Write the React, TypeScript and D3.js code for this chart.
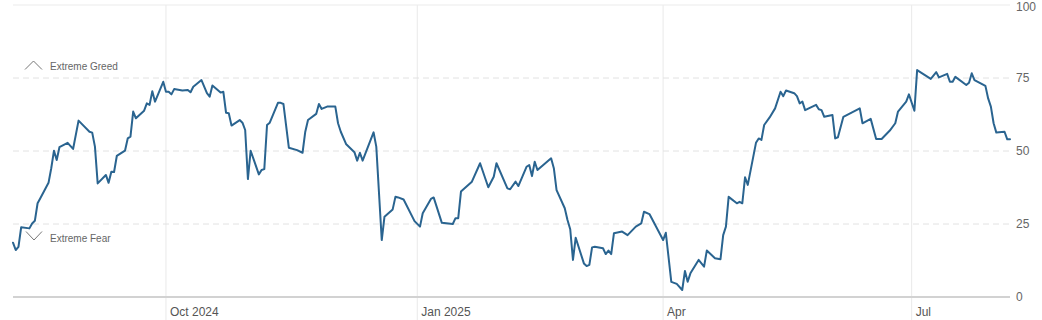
import React from "react";
import * as d3 from "d3";

const dates: string[] = [
  "2024-08-06","2024-08-07","2024-08-08","2024-08-09","2024-08-12","2024-08-13","2024-08-14","2024-08-15","2024-08-16",
  "2024-08-19","2024-08-20","2024-08-21","2024-08-22","2024-08-23","2024-08-26","2024-08-28","2024-08-30",
  "2024-09-03","2024-09-04","2024-09-05","2024-09-06","2024-09-09","2024-09-10","2024-09-11","2024-09-12","2024-09-13",
  "2024-09-16","2024-09-17","2024-09-18","2024-09-19","2024-09-20","2024-09-23","2024-09-24","2024-09-25","2024-09-26","2024-09-27","2024-09-30",
  "2024-10-01","2024-10-02","2024-10-03","2024-10-04","2024-10-06","2024-10-07","2024-10-09","2024-10-10","2024-10-11",
  "2024-10-14","2024-10-16","2024-10-17","2024-10-18","2024-10-21","2024-10-22","2024-10-23","2024-10-24","2024-10-25",
  "2024-10-28","2024-10-29","2024-10-30","2024-10-31",
  "2024-11-01","2024-11-04","2024-11-05","2024-11-06","2024-11-07","2024-11-08","2024-11-11","2024-11-12","2024-11-13","2024-11-15",
  "2024-11-18","2024-11-20","2024-11-21","2024-11-22","2024-11-25","2024-11-26","2024-11-27","2024-11-29",
  "2024-12-02","2024-12-03","2024-12-04","2024-12-06","2024-12-09","2024-12-10","2024-12-11","2024-12-12","2024-12-16","2024-12-17",
  "2024-12-19","2024-12-20","2024-12-23","2024-12-24","2024-12-25","2024-12-27","2024-12-31",
  "2025-01-02","2025-01-03","2025-01-06","2025-01-07","2025-01-10","2025-01-14","2025-01-15","2025-01-16","2025-01-17",
  "2025-01-21","2025-01-24","2025-01-27","2025-01-29","2025-01-30",
  "2025-02-03","2025-02-04","2025-02-06","2025-02-07","2025-02-10","2025-02-11","2025-02-12","2025-02-13","2025-02-14",
  "2025-02-19","2025-02-20","2025-02-21","2025-02-24","2025-02-25","2025-02-26","2025-02-27","2025-02-28",
  "2025-03-03","2025-03-04","2025-03-05","2025-03-06","2025-03-07","2025-03-10","2025-03-11","2025-03-12","2025-03-13","2025-03-14",
  "2025-03-17","2025-03-18","2025-03-19","2025-03-22","2025-03-24","2025-03-25","2025-03-27",
  "2025-04-01","2025-04-02","2025-04-04","2025-04-06","2025-04-08","2025-04-09","2025-04-10","2025-04-11","2025-04-14","2025-04-16","2025-04-17",
  "2025-04-20","2025-04-22","2025-04-23","2025-04-24","2025-04-25","2025-04-28","2025-04-29","2025-04-30",
  "2025-05-01","2025-05-02","2025-05-05","2025-05-06","2025-05-07","2025-05-08","2025-05-10","2025-05-12","2025-05-14","2025-05-15","2025-05-16",
  "2025-05-19","2025-05-20","2025-05-21","2025-05-22","2025-05-23","2025-05-27","2025-05-28","2025-05-29","2025-05-30",
  "2025-06-02","2025-06-03","2025-06-04","2025-06-06","2025-06-12","2025-06-13","2025-06-16","2025-06-18","2025-06-20",
  "2025-06-23","2025-06-25","2025-06-26","2025-06-29","2025-06-30",
  "2025-07-02","2025-07-03","2025-07-08","2025-07-10","2025-07-11","2025-07-14","2025-07-15","2025-07-16","2025-07-17",
  "2025-07-21","2025-07-22","2025-07-23","2025-07-24","2025-07-28","2025-07-29","2025-07-30","2025-07-31",
  "2025-08-01","2025-08-04","2025-08-05","2025-08-06",
];

const values: number[] = [
  18.6,16.1,17.2,23.9,23.5,25.2,26.1,32.1,33.8,
  39.1,44.1,50.1,46.9,51.3,52.8,50.7,60.4,
  56.6,56.3,51.5,38.9,41.8,39.1,42.9,42.8,48.3,
  50.1,54.3,54.9,63.5,61.2,63.8,66.3,65.8,70.5,66.9,73.7,
  70.3,70.3,69.4,71.2,70.9,70.7,70.9,70.1,72.0,
  74.3,69.8,68.6,72.4,70.0,70.3,63.1,62.9,58.7,
  60.6,59.7,57.2,40.4,
  50.1,42.0,43.5,43.8,58.9,59.7,66.5,66.5,66.1,51.1,
  50.3,49.4,56.6,60.6,62.7,66.1,64.4,65.2,
  65.2,59.5,56.6,52.3,49.6,46.7,49.4,46.7,56.4,51.5,
  19.5,27.5,30.0,34.3,34.1,33.4,26.0,
  24.1,28.7,33.6,34.1,25.4,25.0,27.0,27.0,36.1,
  39.5,45.8,37.6,41.2,45.8,
  37.2,36.9,39.5,38.0,44.6,45.2,41.4,46.3,43.5,
  47.5,44.1,36.6,30.4,26.4,23.2,12.7,20.3,
  11.5,10.6,11.0,17.0,17.2,16.7,14.7,15.9,14.7,21.8,
  22.4,21.8,21.2,24.1,25.2,29.2,28.4,
  19.5,22.0,5.2,4.5,2.4,8.9,5.2,8.1,12.7,10.4,15.9,
  13.3,12.9,21.2,24.1,34.3,32.1,32.6,32.1,
  41.0,38.4,52.8,54.3,53.8,58.9,61.5,64.6,70.3,68.8,70.7,
  69.8,68.8,66.3,66.9,64.0,65.8,64.3,64.0,61.7,
  62.3,54.3,54.7,61.7,64.6,59.5,61.0,54.1,54.1,
  57.0,59.5,63.5,66.9,69.4,
  63.8,77.7,74.7,77.0,75.2,76.4,73.7,73.7,75.4,
  72.6,73.4,76.6,74.3,72.3,68.0,65.2,59.5,
  56.3,56.6,54.0,54.0,
];

const yTicks: number[] = [0, 25, 50, 75, 100];
const xTickDates: string[] = ["2024-10-01", "2025-01-01", "2025-04-01", "2025-07-01"];
const xTickLabels: string[] = ["Oct 2024", "Jan 2025", "Apr", "Jul"];
const domainStart = "2024-08-06";
const domainEnd = "2025-08-06";

const W = 1042;
const H = 320;
const left = 13;
const right = 1010;
const top = 5;
const bottom = 297;

export default function App() {
  const parse = d3.timeParse("%Y-%m-%d");
  const pts = dates.map((d, i) => ({ d: parse(d) as Date, v: values[i] }));
  const x = d3
    .scaleTime()
    .domain([parse(domainStart) as Date, parse(domainEnd) as Date])
    .range([left, right]);
  const y = d3.scaleLinear().domain([0, 100]).range([bottom, top]);
  const line = d3
    .line<{ d: Date; v: number }>()
    .x((p) => x(p.d))
    .y((p) => y(p.v));

  const font = "'Liberation Sans', Arial, Helvetica, sans-serif";

  return (
    <svg
      width={W}
      height={H}
      style={{ position: "absolute", left: 0, top: 0, background: "#fff" }}
      fontFamily={font}
    >
      {xTickDates.map((t, i) => {
        const xx = x(parse(t) as Date);
        return (
          <g key={t}>
            <line x1={xx} x2={xx} y1={top} y2={H} stroke="#e9e9e9" strokeWidth={1} />
            <text x={xx + 4} y={316} fontSize={12} fill="#555">
              {xTickLabels[i]}
            </text>
          </g>
        );
      })}
      {yTicks.map((t) => {
        const yy = y(t);
        const isTop = t === 100;
        const isBottom = t === 0;
        return (
          <g key={t}>
            {!isBottom && (
              <line
                x1={left}
                x2={right}
                y1={yy}
                y2={yy}
                stroke={isTop ? "#ebebeb" : "#e2e2e2"}
                strokeWidth={1}
                strokeDasharray={isTop ? undefined : "6,4"}
              />
            )}
            <text x={1016} y={isTop ? yy + 1.5 : yy} dy="0.35em" fontSize={12} fill="#666">
              {t}
            </text>
          </g>
        );
      })}
      <line x1={left} x2={right} y1={bottom} y2={bottom} stroke="#d2d2d2" strokeWidth={2} />

      <polyline points="25,69.5 33.5,61 42,69.5" fill="none" stroke="#777" strokeWidth={1} />
      <text x={50} y={66} dy="0.35em" fontSize={10} fill="#666">
        Extreme Greed
      </text>
      <polyline points="26,231.5 34,240 42,231.5" fill="none" stroke="#777" strokeWidth={1} />
      <text x={50} y={238} dy="0.35em" fontSize={10} fill="#666">
        Extreme Fear
      </text>

      <path
        d={line(pts) || ""}
        fill="none"
        stroke="#2a6490"
        strokeWidth={2}
        strokeLinejoin="round"
        strokeLinecap="round"
      />
    </svg>
  );
}
